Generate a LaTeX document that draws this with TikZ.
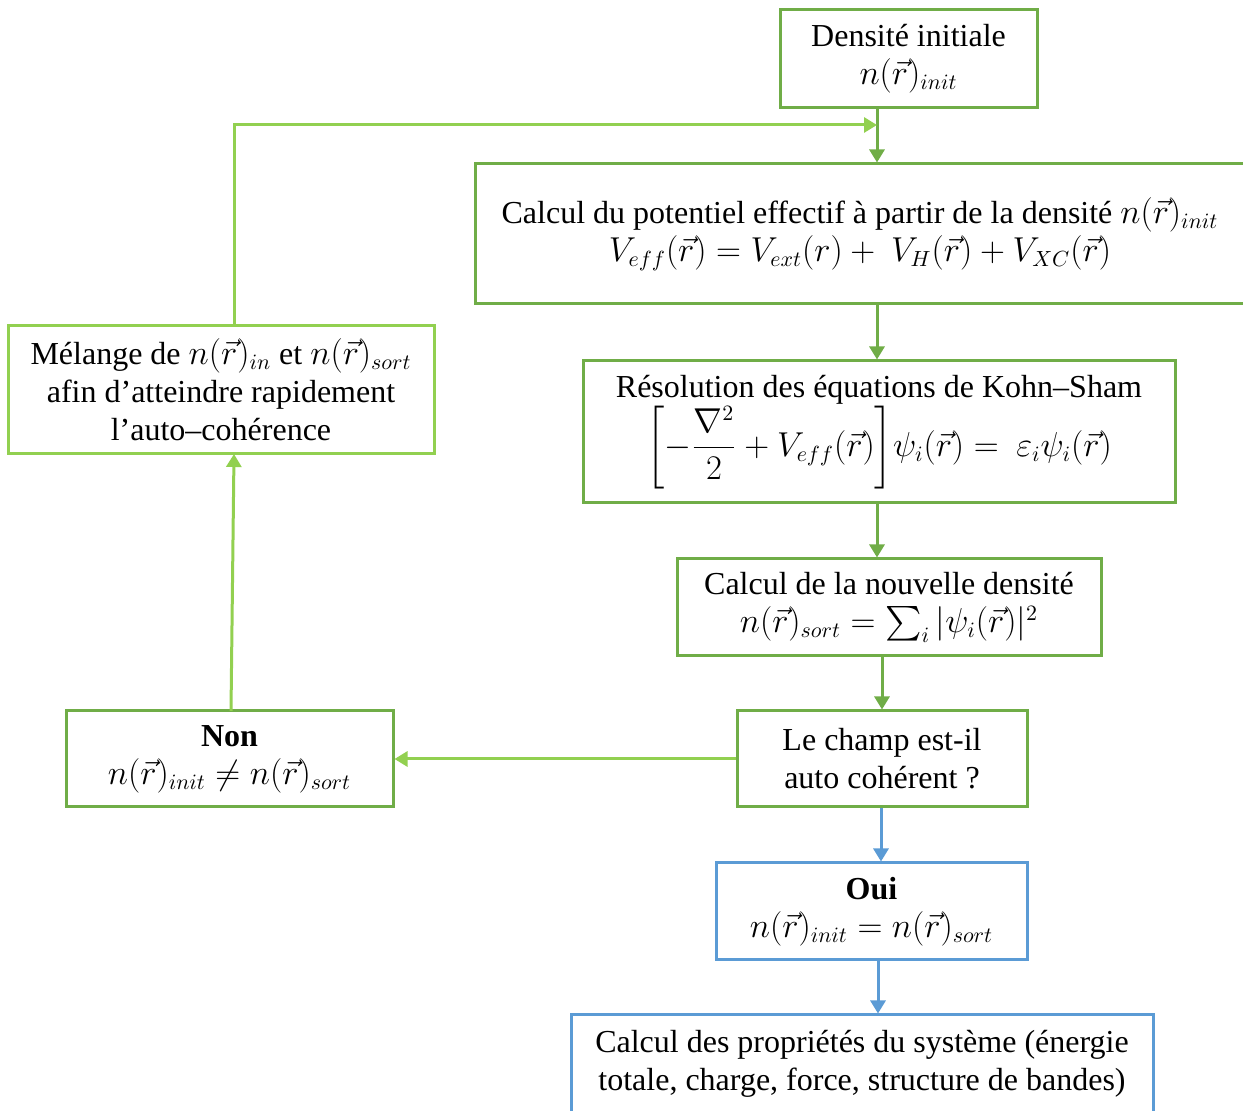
\documentclass[tikz,border=0pt]{standalone}
\usepackage{fontspec}
\setmainfont{Liberation Serif}
\usepackage{amsmath}
\usetikzlibrary{arrows.meta}
\definecolor{dgreen}{HTML}{70AD47}
\definecolor{lgreen}{HTML}{92D050}
\definecolor{mblue}{HTML}{5B9BD5}
\begin{document}
\begin{tikzpicture}[x=0.5pt,y=-0.5pt,
  box/.style={draw=dgreen, line width=1.5pt, align=center, inner sep=0pt,
    font=\fontsize{16}{19}\selectfont},
  lbox/.style={box, draw=lgreen},
  bbox/.style={box, draw=mblue},
  arr/.style={draw=dgreen, line width=1.5pt, -{Triangle[length=6.5pt,width=7.5pt]}},
  larr/.style={arr, draw=lgreen},
  barr/.style={arr, draw=mblue}]
\useasboundingbox (0,0) rectangle (1243,1111);

\node[box, minimum width=128.5pt, minimum height=49pt] (init) at (908.5,59)
  {Densité initiale\\ $n(\vec r)_{init}$};
\node[box, minimum width=385pt, minimum height=70pt] (veff) at (860,234)
  {Calcul du potentiel effectif à partir de la densité $n(\vec r)_{init}$\\
   $V_{eff}(\vec r) = V_{ext}(r) +\ V_H(\vec r) + V_{XC}(\vec r)$};
\node[box, minimum width=296pt, minimum height=71pt] (ks) at (879,432)
  {Résolution des équations de Kohn–Sham\\[0pt]
   $\left[-\dfrac{\nabla^2}{2} + V_{eff}(\vec r)\vphantom{\dfrac{\nabla^2}{2_{j}}}\right]\!\psi_i(\vec r) =\ \varepsilon_i\psi_i(\vec r)$};
\node[box, minimum width=212pt, minimum height=48.5pt] (dens) at (889,607.5)
  {Calcul de la nouvelle densité\\ $n(\vec r)_{sort} = \sum_i|\psi_i(\vec r)|^2$};
\node[box, minimum width=145pt, minimum height=48pt] (champ) at (882,759)
  {Le champ est-il\\ auto cohérent ?};
\node[box, minimum width=163.5pt, minimum height=48pt] (non) at (229.5,759)
  {\textbf{Non}\\ $n(\vec r)_{init} \neq n(\vec r)_{sort}$};
\node[lbox, minimum width=213pt, minimum height=64pt] (mel) at (221,390)
  {Mélange de $n(\vec r)_{in}$ et $n(\vec r)_{sort}$\\ afin d’atteindre rapidement\\ l’auto–cohérence};
\node[bbox, minimum width=155.5pt, minimum height=48.5pt] (oui) at (871.5,911.5)
  {\textbf{Oui}\\ $n(\vec r)_{init} = n(\vec r)_{sort}$};
\node[bbox, minimum width=291pt, minimum height=48.5pt] (fin) at (862,1063.5)
  {Calcul des propriétés du système (énergie\\ totale, charge, force, structure de bandes)};

\coordinate (xa) at (877,0);
\coordinate (xb) at (882,0);
\coordinate (xc) at (881,0);
\coordinate (xd) at (878,0);
\coordinate (j) at (877,125);
\coordinate (mtop) at (234,326);
\coordinate (mbot) at (234,454);
\coordinate (ntop) at (231,711);
\coordinate (jl) at (234,125);

\draw[arr] (init.south -| xa) -- (veff.north -| xa);
\draw[larr] (mtop) -- (jl) -- (j);
\draw[arr] (veff.south -| xa) -- (ks.north -| xa);
\draw[arr] (ks.south -| xa) -- (dens.north -| xa);
\draw[arr] (dens.south -| xb) -- (champ.north -| xb);
\draw[larr] (champ.west) -- (non.east);
\draw[larr] (ntop) -- (mbot);
\draw[barr] (champ.south -| xc) -- (oui.north -| xc);
\draw[barr] (oui.south -| xd) -- (fin.north -| xd);
\end{tikzpicture}
\end{document}
